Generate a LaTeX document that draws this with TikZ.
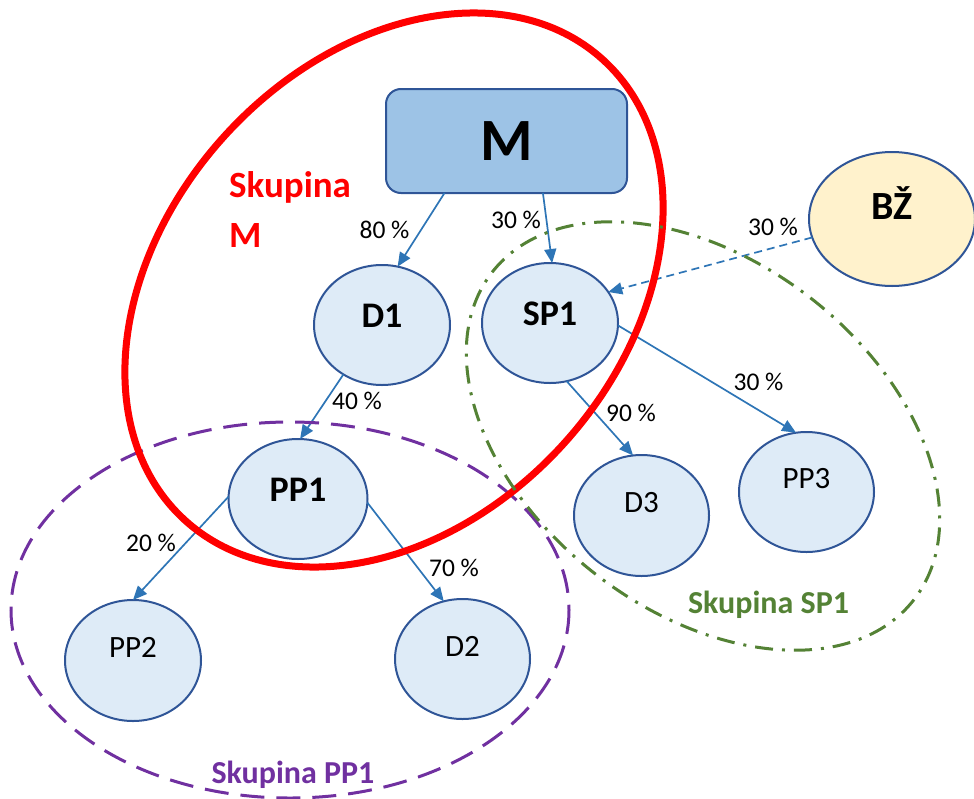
\documentclass[tikz,border=0pt]{standalone}
\usepackage{fontspec}
\setmainfont{Carlito}
\usetikzlibrary{arrows.meta,shapes.geometric}
\definecolor{nfill}{HTML}{DEEBF7}
\definecolor{nborder}{HTML}{2F5597}
\definecolor{mfill}{HTML}{9DC3E6}
\definecolor{bzfill}{HTML}{FFF2CC}
\definecolor{arrowblue}{HTML}{2E75B6}
\definecolor{grpred}{HTML}{FF0000}
\definecolor{grppurple}{HTML}{7030A0}
\definecolor{grpgreen}{HTML}{548235}
\begin{document}
\begin{tikzpicture}[x=1pt,y=-1pt,
  ent/.style={ellipse, draw=nborder, line width=2pt, fill=nfill,
    minimum width=136pt, minimum height=120pt, inner sep=0pt, outer sep=0pt},
  boldtxt/.style={font=\fontsize{36}{40}\selectfont\bfseries, inner sep=0pt, yshift=9pt},
  regtxt/.style={font=\fontsize{31}{36}\selectfont, inner sep=0pt, yshift=13pt},
  pct/.style={font=\fontsize{25.5}{30}\selectfont, inner sep=0pt, anchor=base},
  link/.style={draw=arrowblue, line width=1.7pt, -{Triangle[length=14pt,width=12pt]}},
  dlink/.style={link, dash pattern=on 8pt off 5pt},
  grplbl/.style={font=\fontsize{32}{38}\selectfont\bfseries, inner sep=0pt, anchor=base}
]
\useasboundingbox (0,0) rectangle (974,798);

% entities
\node[draw=nborder, line width=2pt, fill=mfill, rounded corners=15pt,
  minimum width=241pt, minimum height=104pt, inner sep=0pt, outer sep=0pt,
  font=\fontsize{60}{62}\selectfont\bfseries] (M) at (506.5,141) {M};
\node[ent, fill=bzfill, minimum width=166pt, minimum height=134pt,
  label={[font=\fontsize{40}{44}\selectfont\bfseries, inner sep=0pt, yshift=16pt]center:BŽ}] (BZ) at (892,219) {};
\node[ent, label={[boldtxt]center:D1}] (D1) at (382,325) {};
\node[ent, label={[boldtxt]center:SP1}] (SP1) at (550,323) {};
\node[ent, minimum width=139pt, label={[boldtxt]center:PP1}] (PP1) at (298,499) {};
\node[ent, minimum width=135pt, minimum height=121pt, label={[regtxt]center:D3}] (D3) at (641.5,515.5) {};
\node[ent, minimum width=135pt, label={[regtxt]center:PP3}] (PP3) at (806.5,492) {};
\node[ent, minimum height=121pt, label={[regtxt]center:PP2}] (PP2) at (133,660.5) {};
\node[ent, minimum width=135pt, label={[regtxt]center:D2}] (D2) at (462.5,659) {};

% connectors
\draw[link] (M.220) -- (D1.75);
\draw[link] (M.305) -- (SP1.88);
\draw[dlink] (BZ.193) -- (SP1.28);
\draw[link] (D1.232) -- (PP1.88);
\draw[link] (SP1.286) -- (D3.98);
\draw[link] (SP1.358) -- (PP3.100);
\draw[link] (PP1.178) -- (PP2.90);
\draw[link] (PP1.357) -- (D2.108);

% percentages
\node[pct] (p1) at (384.5,238) {80 \%};
\node[pct] (p2) at (516,228) {30 \%};
\node[pct] (p3) at (773,235) {30 \%};
\node[pct] (p4) at (357,409) {40 \%};
\node[pct] (p5) at (631,421) {90 \%};
\node[pct] (p6) at (758.5,390) {30 \%};
\node[pct] (p7) at (151,551) {20 \%};
\node[pct] (p8) at (454,576) {70 \%};

% groups
\draw[grppurple, line width=3pt, dash pattern=on 24pt off 12pt] (290,610) ellipse [x radius=279, y radius=188];
\draw[grpred, line width=7pt, shift={(394,290)}, rotate=47.8] (0,0) ellipse [x radius=311, y radius=229];
\draw[grpgreen, line width=3pt, dash pattern=on 18pt off 9pt on 3pt off 9pt, shift={(703,436)}, rotate=-37.8] (0,0) ellipse [x radius=267, y radius=175];

\node[font=\fontsize{37}{50}\selectfont\bfseries, text=grpred, align=left, anchor=base west, inner sep=0pt] (gM) at (229,247) {Skupina\\M};
\node[grplbl, text=grppurple] (gPP1) at (293,783) {Skupina PP1};
\node[grplbl, text=grpgreen] (gSP1) at (768.5,613) {Skupina SP1};
\end{tikzpicture}
\end{document}
